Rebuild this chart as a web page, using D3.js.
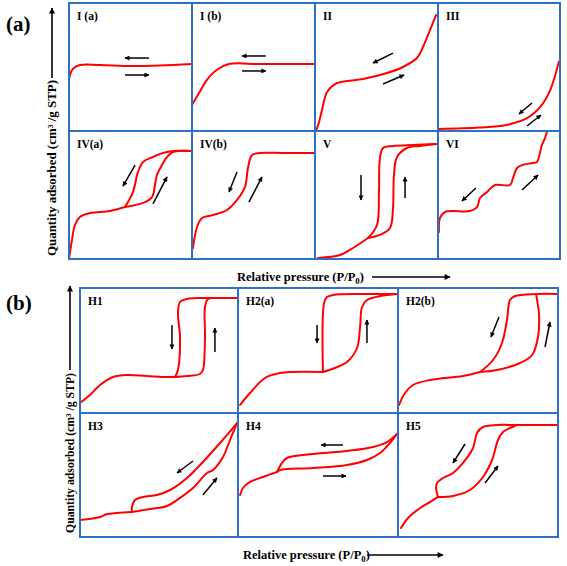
<!DOCTYPE html>
<html><head><meta charset="utf-8">
<script src="https://cdn.jsdelivr.net/npm/d3@7"></script>
<style>body{margin:0;background:#fff}svg{display:block}text{font-family:"Liberation Serif","Times New Roman",serif;font-weight:bold;fill:#000}</style>
</head><body><svg id="c" width="567" height="566"></svg>
<script>
// ---------- data (relative pressure 0..1, quantity 0..1 within each panel) ----------
const labelsA = ["I (a)", "I (b)", "II", "III", "IV(a)", "IV(b)", "V", "VI"];
const labelsB = ["H1", "H2(a)", "H2(b)", "H3", "H4", "H5"];

const isoIa = [[[0,0.406],[0.016,0.461],[0.04,0.492],[0.089,0.516],[0.25,0.516],[0.5,0.508],[0.74,0.512],[1,0.523]]];
const isoIb = [[[0,0.203],[0.057,0.297],[0.12,0.398],[0.2,0.477],[0.3,0.523],[0.55,0.523],[1,0.523]]];
const isoII = [[[0.008,0],[0.033,0.07],[0.057,0.164],[0.098,0.305],[0.163,0.367],[0.26,0.39],[0.39,0.406],[0.585,0.453],[0.715,0.5],[0.829,0.57],[0.878,0.656],[0.935,0.789],[0.984,0.906]]];
const isoIII = [[[0,0.016],[0.34,0.027],[0.56,0.047],[0.73,0.1],[0.84,0.19],[0.92,0.32],[0.99,0.54]]];
const isoIVa = [
  [[0,0],[0.024,0.148],[0.049,0.266],[0.089,0.328],[0.171,0.359],[0.333,0.375],[0.455,0.406]],
  [[0.455,0.406],[0.52,0.523],[0.561,0.68],[0.602,0.758],[0.683,0.797],[0.764,0.828],[0.846,0.844],[1,0.844]],
  [[0.455,0.406],[0.602,0.438],[0.675,0.484],[0.699,0.578],[0.715,0.656],[0.756,0.734],[0.797,0.797],[0.846,0.836],[1,0.844]]];
const isoIVb = [[[0.008,0.086],[0.041,0.25],[0.081,0.32],[0.171,0.344],[0.285,0.383],[0.366,0.461],[0.431,0.563],[0.455,0.711],[0.488,0.813],[0.553,0.828],[0.74,0.828],[1,0.828]]];
const isoV = [
  [[0.024,0.008],[0.203,0.031],[0.309,0.086],[0.431,0.164]],
  [[0.431,0.164],[0.504,0.266],[0.52,0.523],[0.528,0.789],[0.553,0.867],[0.634,0.883],[0.797,0.891],[0.992,0.898]],
  [[0.431,0.164],[0.528,0.188],[0.61,0.242],[0.634,0.398],[0.642,0.656],[0.667,0.797],[0.748,0.867],[0.854,0.883],[0.992,0.898]]];
const isoVI = [[[0.008,0.211],[0.016,0.32],[0.057,0.367],[0.262,0.375],[0.32,0.406],[0.344,0.477],[0.402,0.523],[0.467,0.578],[0.59,0.578],[0.615,0.633],[0.648,0.711],[0.689,0.734],[0.779,0.75],[0.811,0.758],[0.852,0.891],[0.877,0.945],[0.893,0.992]]];

const isoH1 = [
  [[0,0.08],[0.063,0.144],[0.127,0.224],[0.209,0.288],[0.297,0.304],[0.424,0.296],[0.551,0.288],[0.601,0.288]],
  [[0.601,0.288],[0.62,0.344],[0.633,0.608],[0.62,0.8],[0.633,0.888],[0.677,0.912],[0.759,0.92],[0.842,0.92],[0.994,0.92]],
  [[0.601,0.288],[0.677,0.296],[0.759,0.312],[0.778,0.344],[0.791,0.608],[0.791,0.848],[0.81,0.912],[0.842,0.92]]];
const isoH2a = [
  [[0.013,0.064],[0.075,0.16],[0.169,0.28],[0.263,0.32],[0.531,0.328]],
  [[0.531,0.328],[0.538,0.88],[0.556,0.928],[0.594,0.944],[0.781,0.952],[1,0.952]],
  [[0.531,0.328],[0.606,0.36],[0.681,0.408],[0.744,0.52],[0.763,0.688],[0.775,0.848],[0.806,0.904],[0.888,0.936],[1,0.952]]];
const isoH2b = [
  [[0.006,0.064],[0.044,0.16],[0.094,0.224],[0.2,0.264],[0.406,0.296],[0.513,0.328]],
  [[0.513,0.328],[0.594,0.424],[0.65,0.56],[0.681,0.744],[0.7,0.904],[0.731,0.936],[0.869,0.952],[1,0.952]],
  [[0.513,0.328],[0.619,0.344],[0.763,0.4],[0.838,0.464],[0.875,0.608],[0.881,0.8],[0.869,0.904],[0.863,0.952]]];
const isoH3 = [
  [[0,0.137],[0.127,0.161],[0.171,0.185],[0.234,0.194],[0.329,0.202]],
  [[0.329,0.202],[0.329,0.242],[0.348,0.298],[0.399,0.323],[0.487,0.339],[0.57,0.379],[0.677,0.476],[0.778,0.605],[0.886,0.758],[0.994,0.919]],
  [[0.329,0.202],[0.443,0.226],[0.551,0.25],[0.633,0.315],[0.715,0.395],[0.804,0.516],[0.842,0.54],[0.905,0.645],[0.949,0.782],[0.994,0.919]]];
const isoH4 = [
  [[0.013,0.339],[0.031,0.395],[0.075,0.444],[0.156,0.484],[0.244,0.524]],
  [[0.244,0.524],[0.275,0.597],[0.306,0.637],[0.469,0.669],[0.681,0.694],[0.844,0.726],[0.931,0.766],[0.994,0.831]],
  [[0.244,0.524],[0.263,0.54],[0.469,0.556],[0.681,0.581],[0.806,0.621],[0.888,0.677],[0.95,0.758],[0.994,0.831]]];
const isoH5 = [
  [[0.019,0.073],[0.063,0.153],[0.138,0.234],[0.2,0.282],[0.25,0.323]],
  [[0.25,0.323],[0.238,0.395],[0.244,0.435],[0.281,0.476],[0.344,0.516],[0.406,0.597],[0.469,0.718],[0.494,0.839],[0.531,0.887],[0.619,0.903],[0.744,0.903],[0.994,0.903]],
  [[0.25,0.323],[0.344,0.331],[0.45,0.379],[0.531,0.484],[0.588,0.621],[0.625,0.782],[0.656,0.847],[0.7,0.879],[0.744,0.903]]];

// direction arrows [x_tail, y_tail, x_head, y_head]
const arrIa = [[0.65,0.57,0.455,0.57],[0.455,0.4375,0.65,0.4375]];
const arrIb = [[0.6,0.586,0.407,0.586],[0.407,0.469,0.6,0.469]];
const arrII = [[0.634,0.609,0.472,0.531],[0.553,0.367,0.724,0.4375]];
const arrIII = [[0.77,0.219,0.664,0.133],[0.73,0.039,0.844,0.125]];
const arrIVa = [[0.537,0.734,0.439,0.57],[0.683,0.43,0.797,0.641]];
const arrIVb = [[0.366,0.68,0.301,0.523],[0.463,0.445,0.569,0.641]];
const arrV = [[0.374,0.656,0.374,0.461],[0.732,0.477,0.732,0.641]];
const arrVI = [[0.311,0.555,0.197,0.453],[0.689,0.539,0.82,0.656]];
const arrH1 = [[0.582,0.704,0.582,0.512],[0.854,0.488,0.854,0.68]];
const arrH2a = [[0.494,0.704,0.494,0.56],[0.806,0.56,0.806,0.744]];
const arrH2b = [[0.631,0.768,0.581,0.608],[0.919,0.528,0.95,0.728]];
const arrH3 = [[0.715,0.613,0.614,0.516],[0.778,0.339,0.867,0.476]];
const arrH4 = [[0.656,0.742,0.519,0.742],[0.531,0.492,0.675,0.492]];
const arrH5 = [[0.419,0.75,0.344,0.597],[0.544,0.435,0.625,0.573]];

const yLabel = "Quantity adsorbed (cm³ /g STP)";
const xLabelMain = "Relative pressure (P/P";
const xLabelSub = "0";

// ---------- layout ----------
const BLUE = "#2b72c2", RED = "#ff0000";
const gridA = {xs:[69,192,315,438,560], ys:[3,131,259]};
const gridB = {xs:[80,238,398,558], ys:[288,413,537]};

const svg = d3.select("#c");
const defs = svg.append("defs");
function marker(id, w, h){
  defs.append("marker").attr("id",id).attr("viewBox","0 0 10 10").attr("refX",9).attr("refY",5)
    .attr("markerWidth",w).attr("markerHeight",h).attr("markerUnits","userSpaceOnUse").attr("orient","auto")
    .append("path").attr("d","M0,0L10,5L0,10z").attr("fill","#000");
}
marker("ah",6,5); marker("ahBig",8,6);

const line = d3.line().curve(d3.curveCatmullRom.alpha(0.5));

function panel(grid, col, row, curves, arrows, label){
  const x0 = grid.xs[col], x1 = grid.xs[col+1], y0 = grid.ys[row], y1 = grid.ys[row+1];
  const sx = d3.scaleLinear().domain([0,1]).range([x0,x1]);
  const sy = d3.scaleLinear().domain([0,1]).range([y1,y0]);
  const g = svg.append("g");
  line.x(d=>sx(d[0])).y(d=>sy(d[1]));
  curves.forEach(c=>g.append("path").attr("d",line(c)).attr("fill","none").attr("stroke",RED)
    .attr("stroke-width",2).attr("stroke-linecap","round").attr("stroke-linejoin","round"));
  arrows.forEach(a=>g.append("line").attr("x1",sx(a[0])).attr("y1",sy(a[1])).attr("x2",sx(a[2])).attr("y2",sy(a[3]))
    .attr("stroke","#000").attr("stroke-width",1.5).attr("marker-end","url(#ah)"));
  g.append("text").attr("x",x0+8).attr("y",y0+17).attr("font-size",11.5).text(label);
}

// panel (a)
const dataA = [isoIa,isoIb,isoII,isoIII,isoIVa,isoIVb,isoV,isoVI];
const arrA = [arrIa,arrIb,arrII,arrIII,arrIVa,arrIVb,arrV,arrVI];
dataA.forEach((d,i)=>panel(gridA, i%4, Math.floor(i/4), d, arrA[i], labelsA[i]));
// panel (b)
const dataB = [isoH1,isoH2a,isoH2b,isoH3,isoH4,isoH5];
const arrB = [arrH1,arrH2a,arrH2b,arrH3,arrH4,arrH5];
dataB.forEach((d,i)=>panel(gridB, i%3, Math.floor(i/3), d, arrB[i], labelsB[i]));

// grids
function grid(gr){
  const g = svg.append("g").attr("stroke",BLUE).attr("stroke-width",2).attr("fill","none");
  gr.xs.forEach(x=>g.append("line").attr("x1",x).attr("x2",x).attr("y1",gr.ys[0]).attr("y2",gr.ys[gr.ys.length-1]));
  gr.ys.forEach(y=>g.append("line").attr("y1",y).attr("y2",y).attr("x1",gr.xs[0]-1).attr("x2",gr.xs[gr.xs.length-1]+1));
}
grid(gridA); grid(gridB);

// panel letters
svg.append("text").attr("x",6).attr("y",31).attr("font-size",21).text("(a)");
svg.append("text").attr("x",6).attr("y",310).attr("font-size",21).text("(b)");

// axis titles
function yTitle(cx, cy, len, fs, ay1, ay2){
  svg.append("text").attr("transform",`translate(${cx},${cy}) rotate(-90)`).attr("text-anchor","middle")
    .attr("dy","0.35em").attr("font-size",fs).attr("textLength",len).attr("lengthAdjust","spacingAndGlyphs").text(yLabel);
  svg.append("line").attr("x1",cx).attr("x2",cx).attr("y1",ay1).attr("y2",ay2).attr("stroke","#000")
    .attr("stroke-width",1.6).attr("marker-end","url(#ahBig)");
}
yTitle(52, 168, 176, 12.5, 78, 8);
yTitle(70, 453, 160, 11.5, 370, 286);

function xTitle(x, y, len, fs, ax1, ax2){
  const t = svg.append("text").attr("x",x).attr("y",y).attr("font-size",fs);
  t.append("tspan").text(xLabelMain);
  t.append("tspan").attr("font-size",fs*0.7).attr("dy",3).text(xLabelSub);
  t.append("tspan").attr("dy",-3).text(")");
  svg.append("line").attr("x1",ax1).attr("x2",ax2).attr("y1",y-4).attr("y2",y-4).attr("stroke","#000")
    .attr("stroke-width",1.6).attr("marker-end","url(#ahBig)");
}
xTitle(237, 281, 123, 12.5, 372, 450);
xTitle(243, 559, 122, 12.5, 367, 443);
</script></body></html>
